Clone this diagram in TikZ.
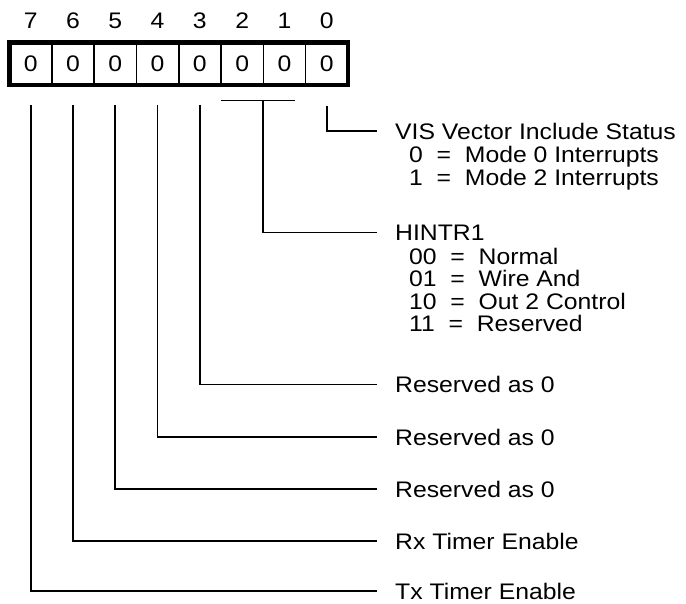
\documentclass[tikz,border=0pt]{standalone}
\usepackage{fontspec}
\setmainfont{Liberation Sans}[FakeStretch=1.10]
\usetikzlibrary{positioning,calc}

\begin{document}
\begin{tikzpicture}[x=1pt, y=-1pt,
    bitcell/.style={rectangle, draw=black, line width=1.6pt, minimum width=42.3pt,
                    minimum height=42.4pt, inner sep=0pt, outer sep=0pt},
    bitnum/.style={inner sep=0pt},
    lead/.style={draw=black, line width=1.7pt},
    desc/.style={inner sep=0pt, align=left},
    every node/.style={font=\fontsize{22.5}{22.5}\selectfont}
]
\useasboundingbox (0,0) rectangle (686,603);

% register cells and bit numbers
\foreach \b [count=\i from 0] in {7,...,0} {
    \node[bitcell] (c\b) at ({30.65+42.3*\i},63.75) {0};
    \node[bitnum, above=14pt of c\b] (n\b) {\b};
}
\draw[line width=4.5pt] (c7.north west) rectangle (c0.south east);

% field descriptions
\node[desc, anchor=west] (vis) at (395,131) {VIS Vector Include Status};
\node[desc, below right=7pt and 14pt of vis.south west] (vislist)
    {0\ \ =\ \ Mode 0 Interrupts \\ 1\ \ =\ \ Mode 2 Interrupts};
\node[desc, anchor=west] (hintr) at (395,232.5) {HINTR1};
\node[desc, below right=7.5pt and 14pt of hintr.south west] (hintrlist)
    {00\ \ =\ \ Normal \\ 01\ \ =\ \ Wire And \\ 10\ \ =\ \ Out 2 Control \\ 11\ \ =\ \ Reserved};
\node[desc, anchor=west] (l3) at (395,384.5) {Reserved as 0};
\node[desc, anchor=west] (l4) at (395,437) {Reserved as 0};
\node[desc, anchor=west] (l5) at (395,489) {Reserved as 0};
\node[desc, anchor=west] (l6) at (395,541) {Rx Timer Enable};
\node[desc, anchor=west] (l7) at (395,591) {Tx Timer Enable};

% leader lines
\foreach \b in {7,...,3}
    \draw[lead] ($(c\b.south)+(0,20)$) |- ([xshift=-18.5pt]l\b.west);

\coordinate (barl) at ($(c2.south west)+(0,15.5)$);
\coordinate (barr) at ($(c1.south east)+(-11,15.5)$);
\draw[lead] (barl) -- (barr);
\draw[lead] ($(c2.south east)+(0,15.5)$) |- ([xshift=-18.5pt]hintr.west);

\draw[lead] ($(c0.south)+(0,21)$) |- ([xshift=-18.5pt]vis.west);

\end{tikzpicture}
\end{document}
